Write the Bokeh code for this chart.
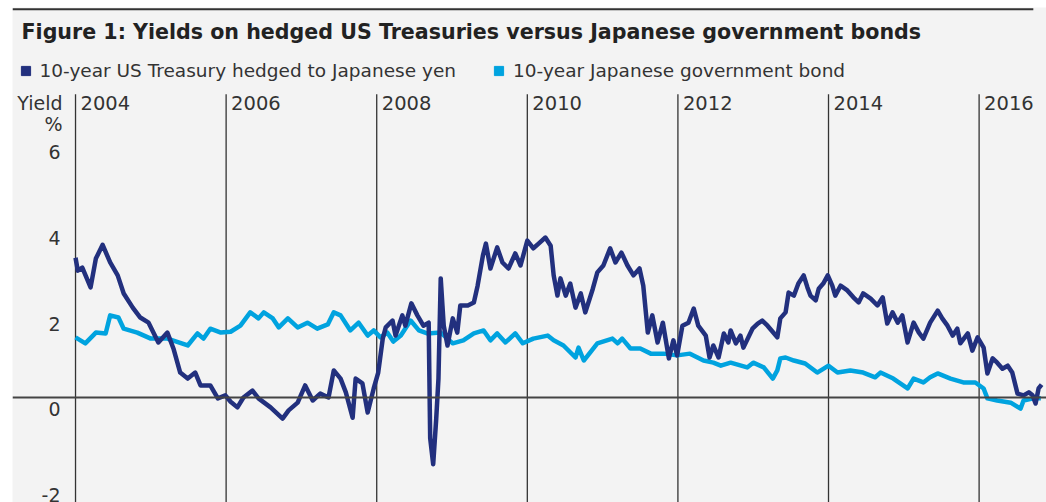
from bokeh.plotting import figure
from bokeh.models import Range1d, Span, Label, Legend, LegendItem
from bokeh.core.properties import value
from bokeh.embed import file_html
from bokeh.resources import INLINE

# ---------------- data ----------------
title_text = "Figure 1: Yields on hedged US Treasuries versus Japanese government bonds"
us_name = "10-year US Treasury hedged to Japanese yen"
jgb_name = "10-year Japanese government bond"

us_t = [2004.00, 2004.03, 2004.09, 2004.20, 2004.27, 2004.36, 2004.46, 2004.56, 2004.64, 2004.76,
        2004.86, 2004.97, 2005.10, 2005.22, 2005.30, 2005.39, 2005.49, 2005.59, 2005.66, 2005.79,
        2005.89, 2005.99, 2006.06, 2006.15, 2006.23, 2006.35, 2006.43, 2006.59, 2006.75, 2006.83,
        2006.95, 2007.05, 2007.15, 2007.25, 2007.36, 2007.43, 2007.52, 2007.59, 2007.68, 2007.72,
        2007.81, 2007.88, 2007.96, 2008.02, 2008.08, 2008.12, 2008.21, 2008.25, 2008.34, 2008.38,
        2008.46, 2008.54, 2008.62, 2008.69, 2008.71, 2008.75, 2008.79, 2008.82, 2008.85, 2008.89,
        2008.94, 2009.01, 2009.07, 2009.11, 2009.21, 2009.29, 2009.34, 2009.41, 2009.45, 2009.51,
        2009.60, 2009.67, 2009.75, 2009.84, 2009.91, 2010.00, 2010.08, 2010.15, 2010.24, 2010.31,
        2010.35, 2010.40, 2010.44, 2010.51, 2010.57, 2010.64, 2010.71, 2010.77, 2010.87, 2010.93,
        2011.01, 2011.10, 2011.17, 2011.25, 2011.33, 2011.41, 2011.49, 2011.54, 2011.60, 2011.66,
        2011.73, 2011.80, 2011.88, 2011.94, 2011.99, 2012.06, 2012.14, 2012.21, 2012.27, 2012.37,
        2012.42, 2012.47, 2012.54, 2012.61, 2012.67, 2012.70, 2012.77, 2012.83, 2012.87, 2012.99,
        2013.06, 2013.12, 2013.19, 2013.32, 2013.36, 2013.43, 2013.47, 2013.54, 2013.60, 2013.67,
        2013.72, 2013.76, 2013.83, 2013.87, 2013.93, 2013.99, 2014.05, 2014.09, 2014.16, 2014.25,
        2014.33, 2014.40, 2014.46, 2014.56, 2014.65, 2014.72, 2014.78, 2014.85, 2014.92, 2014.98,
        2015.05, 2015.13, 2015.20, 2015.26, 2015.35, 2015.45, 2015.51, 2015.58, 2015.65, 2015.71,
        2015.75, 2015.85, 2015.91, 2015.98, 2016.06, 2016.11, 2016.18, 2016.24, 2016.31, 2016.38,
        2016.44, 2016.51, 2016.59, 2016.66, 2016.71, 2016.75, 2016.79, 2016.83]
us_v = [3.25, 2.95, 3.02, 2.56, 3.23, 3.55, 3.14, 2.84, 2.42, 2.09,
        1.86, 1.74, 1.28, 1.51, 1.14, 0.58, 0.44, 0.58, 0.28, 0.28,
        -0.02, 0.05, -0.10, -0.23, 0.00, 0.16, -0.02, -0.23, -0.49, -0.30,
        -0.12, 0.28, -0.07, 0.09, 0.00, 0.63, 0.44, 0.12, -0.47, 0.44,
        0.33, -0.35, 0.21, 0.58, 1.37, 1.63, 1.79, 1.44, 1.91, 1.67,
        2.19, 1.91, 1.67, 1.74, -0.95, -1.55, -0.50, 0.44, 2.77, 1.67,
        1.21, 1.84, 1.51, 2.14, 2.14, 2.21, 2.60, 3.30, 3.58, 3.00,
        3.49, 3.14, 3.00, 3.35, 3.07, 3.65, 3.47, 3.58, 3.72, 3.53,
        2.84, 2.37, 2.77, 2.37, 2.65, 2.09, 2.42, 1.98, 2.53, 2.91,
        3.07, 3.47, 3.14, 3.37, 3.07, 2.84, 3.00, 2.60, 1.51, 1.91,
        1.28, 1.74, 0.91, 1.33, 0.98, 1.67, 1.74, 2.07, 1.67, 1.44,
        0.93, 1.21, 0.93, 1.49, 1.28, 1.56, 1.26, 1.44, 1.16, 1.60,
        1.72, 1.79, 1.67, 1.40, 1.84, 1.98, 2.44, 2.37, 2.65, 2.84,
        2.56, 2.37, 2.26, 2.53, 2.65, 2.84, 2.60, 2.37, 2.60, 2.49,
        2.33, 2.21, 2.42, 2.30, 2.14, 2.33, 1.72, 1.98, 1.74, 1.91,
        1.28, 1.74, 1.51, 1.37, 1.74, 2.02, 1.84, 1.67, 1.44, 1.60,
        1.26, 1.49, 1.09, 1.40, 1.16, 0.56, 0.91, 0.81, 0.67, 0.74,
        0.58, 0.09, 0.05, 0.12, 0.05, -0.14, 0.21, 0.30]

jgb_t = [2004.00, 2004.13, 2004.27, 2004.40, 2004.46, 2004.57, 2004.64, 2004.82, 2005.00, 2005.22,
         2005.49, 2005.62, 2005.70, 2005.79, 2005.93, 2006.06, 2006.19, 2006.32, 2006.43, 2006.50,
         2006.62, 2006.70, 2006.82, 2006.95, 2007.08, 2007.21, 2007.35, 2007.43, 2007.52, 2007.65,
         2007.76, 2007.88, 2007.96, 2008.05, 2008.14, 2008.22, 2008.32, 2008.45, 2008.56, 2008.67,
         2008.85, 2009.01, 2009.15, 2009.29, 2009.42, 2009.51, 2009.60, 2009.71, 2009.84, 2009.94,
         2010.08, 2010.27, 2010.35, 2010.48, 2010.64, 2010.68, 2010.75, 2010.93, 2011.13, 2011.20,
         2011.26, 2011.37, 2011.50, 2011.64, 2011.81, 2011.99, 2012.16, 2012.34, 2012.47, 2012.57,
         2012.70, 2012.92, 2013.00, 2013.14, 2013.26, 2013.32, 2013.36, 2013.43, 2013.54, 2013.69,
         2013.85, 2014.00, 2014.12, 2014.29, 2014.46, 2014.62, 2014.69, 2014.86, 2015.05, 2015.13,
         2015.26, 2015.35, 2015.45, 2015.62, 2015.79, 2015.95, 2016.06, 2016.11, 2016.24, 2016.42,
         2016.55, 2016.59, 2016.72, 2016.82]
jgb_v = [1.40, 1.26, 1.51, 1.49, 1.91, 1.86, 1.60, 1.51, 1.37, 1.37,
         1.21, 1.49, 1.37, 1.60, 1.51, 1.53, 1.67, 1.98, 1.84, 1.98,
         1.84, 1.63, 1.84, 1.63, 1.74, 1.60, 1.70, 1.98, 1.91, 1.56,
         1.74, 1.44, 1.56, 1.40, 1.51, 1.30, 1.44, 1.79, 1.56, 1.49,
         1.51, 1.26, 1.33, 1.49, 1.56, 1.33, 1.49, 1.28, 1.49, 1.26,
         1.37, 1.44, 1.33, 1.21, 0.93, 1.16, 0.86, 1.26, 1.37, 1.26,
         1.37, 1.14, 1.14, 1.02, 1.02, 0.98, 1.02, 0.86, 0.81, 0.74,
         0.81, 0.70, 0.81, 0.70, 0.44, 0.63, 0.91, 0.93, 0.86, 0.79,
         0.58, 0.74, 0.58, 0.63, 0.58, 0.47, 0.58, 0.44, 0.21, 0.44,
         0.35, 0.47, 0.56, 0.44, 0.35, 0.35, 0.21, -0.02, -0.07, -0.12,
         -0.26, -0.07, -0.02, -0.02]

year_ticks = [2004, 2006, 2008, 2010, 2012, 2014, 2016]
year_labels = ["2004", "2006", "2008", "2010", "2012", "2014", "2016"]
y_ticks = [6, 4, 2, 0, -2]
y_tick_labels = ["6", "4", "2", "0", "-2"]

# ---------------- styling / layout ----------------
NAVY = "#22307e"
CYAN = "#00a3df"
PANEL = "#f3f3f3"
INK = "#333333"
FONT = "DejaVu Sans"

X_START, X_END = 2003.163, 2016.895
Y_START, Y_END = -2.442, 9.07
RULE_Y = 9.03        # top dark rule
RULE_X_END = 2016.72
ROW_YEAR = 6.86      # height of the year-label row
ROW_PCT = 6.35       # height of the "%" label
VLINE_TOP = 7.05     # top of year divider lines

p = figure(width=1046, height=502, output_backend="svg", toolbar_location=None,
           x_range=Range1d(X_START, X_END), y_range=Range1d(Y_START, Y_END),
           x_axis_type=None, y_axis_type=None,
           min_border_left=12, min_border_right=0, min_border_top=7, min_border_bottom=0)
p.grid.visible = False
p.outline_line_color = None
p.background_fill_color = PANEL
p.border_fill_color = "white"

# top rule
p.segment(x0=[X_START], y0=[RULE_Y], x1=[RULE_X_END], y1=[RULE_Y], line_color=INK, line_width=2)

# year divider lines
p.segment(x0=year_ticks, y0=[Y_START] * len(year_ticks), x1=year_ticks,
          y1=[VLINE_TOP] * len(year_ticks), line_color=INK, line_width=1.3)

# zero line
p.add_layout(Span(location=0, dimension="width", line_color="#444444", line_width=2))

# year labels
p.text(x=year_ticks, y=[ROW_YEAR] * len(year_ticks), text=year_labels, x_offset=5,
       text_align="left", text_baseline="middle", text_font=value(FONT),
       text_font_size="19.5px", text_color=INK)

# y tick labels
p.text(x=[year_ticks[0]] * len(y_ticks), y=y_ticks, text=y_tick_labels, x_offset=-15, y_offset=12,
       text_align="right", text_baseline="middle", text_font=value(FONT),
       text_font_size="19px", text_color=INK)
p.text(x=[year_ticks[0]], y=[ROW_YEAR], text=["Yield"], x_offset=-13,
       text_align="right", text_baseline="middle", text_font=value(FONT),
       text_font_size="19px", text_color=INK)
p.text(x=[year_ticks[0]], y=[ROW_PCT], text=["%"], x_offset=-22,
       text_align="center", text_baseline="middle", text_font=value(FONT),
       text_font_size="19px", text_color=INK)

# series
p.line(jgb_t, jgb_v, line_color=CYAN, line_width=4.5, line_join="round")
p.line(us_t, us_v, line_color=NAVY, line_width=4.5, line_join="round")

# legend (square swatches; swatch renderers hidden from the plot area)
r_us = p.scatter(x=us_t[:1], y=us_v[:1], marker="square", size=9, color=NAVY, visible=False)
r_jgb = p.scatter(x=jgb_t[:1], y=jgb_v[:1], marker="square", size=9, color=CYAN, visible=False)
legend = Legend(items=[LegendItem(label=us_name, renderers=[r_us]),
                       LegendItem(label=jgb_name, renderers=[r_jgb])],
                orientation="horizontal", location=(1.5, 420.5),
                glyph_width=23, glyph_height=23, label_standoff=3, spacing=31,
                padding=0, margin=0, border_line_color=None, background_fill_alpha=0,
                inactive_fill_alpha=0,
                label_text_font=FONT, label_text_font_size="18.5px", label_text_color=INK,
                label_text_baseline="middle")
p.add_layout(legend)

# title
p.add_layout(Label(x=9, y=471, x_units="screen", y_units="screen", text=title_text,
                   text_font=FONT, text_font_style="bold", text_font_size="20.6px",
                   text_baseline="middle", text_color="#222222"))

open("out.html", "w").write(file_html(p, INLINE))
